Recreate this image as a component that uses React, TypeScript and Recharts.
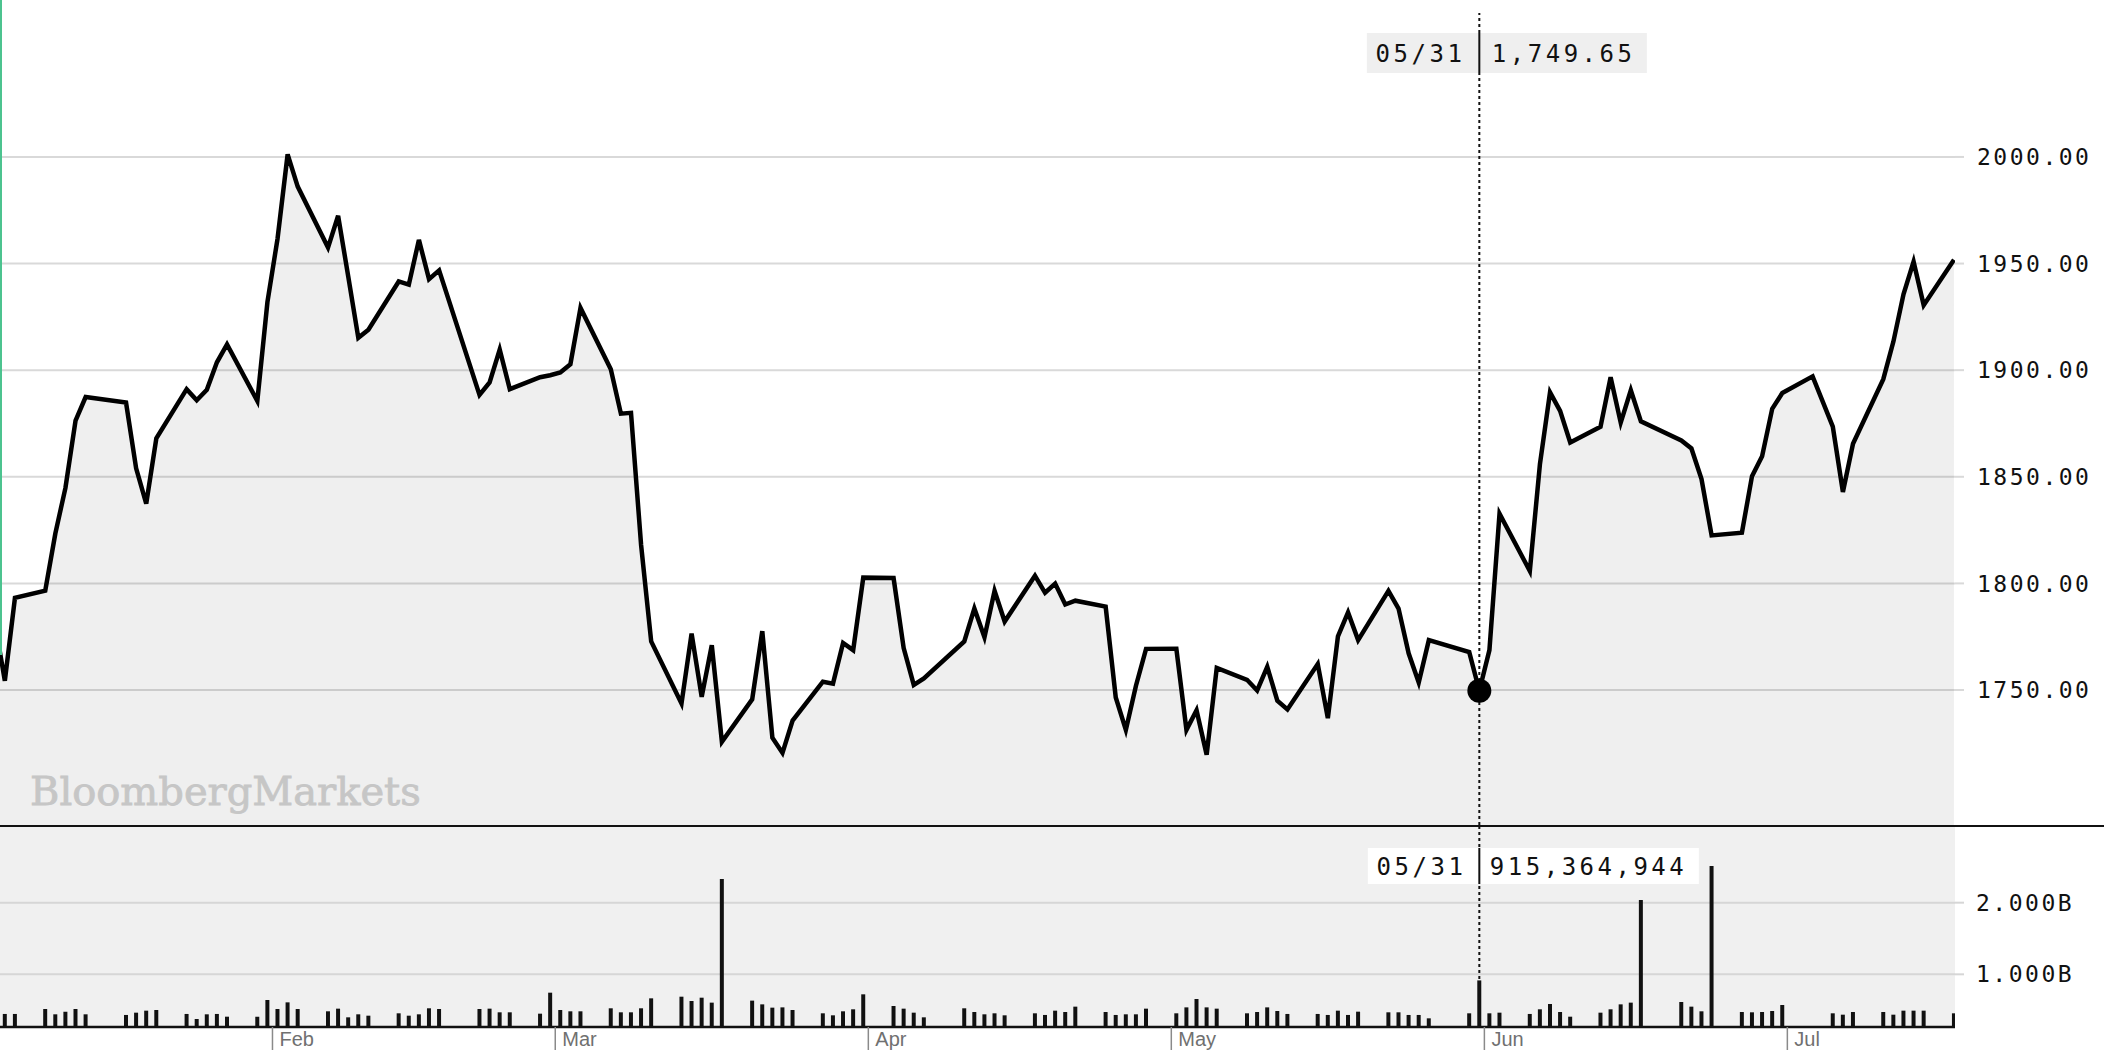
import React from "react";
import { ComposedChart, Area, Bar, XAxis, YAxis, CartesianGrid, ReferenceLine, ReferenceDot } from "recharts";

// 2023, day-of-year at the start of each month
const MONTH_START = [0, 31, 59, 90, 120, 151, 181, 212];
const MONTH_NAMES = ["Jan", "Feb", "Mar", "Apr", "May", "Jun", "Jul"];

const dates = [
  "01-04", "01-05", "01-06", "01-09", "01-10", "01-11", "01-12", "01-13", "01-17", "01-18", "01-19", "01-20", "01-23", "01-24", "01-25", "01-26", "01-27", "01-30", "01-31",
  "02-01", "02-02", "02-03", "02-06", "02-07", "02-08", "02-09", "02-10", "02-13", "02-14", "02-15", "02-16", "02-17", "02-21", "02-22", "02-23", "02-24", "02-27", "02-28",
  "03-01", "03-02", "03-03", "03-06", "03-07", "03-08", "03-09", "03-10", "03-13", "03-14", "03-15", "03-16", "03-17", "03-20", "03-21", "03-22", "03-23", "03-24", "03-27", "03-28", "03-29", "03-30", "03-31",
  "04-03", "04-04", "04-05", "04-06", "04-10", "04-11", "04-12", "04-13", "04-14", "04-17", "04-18", "04-19", "04-20", "04-21", "04-24", "04-25", "04-26", "04-27", "04-28",
  "05-01", "05-02", "05-03", "05-04", "05-05", "05-08", "05-09", "05-10", "05-11", "05-12", "05-15", "05-16", "05-17", "05-18", "05-19", "05-22", "05-23", "05-24", "05-25", "05-26", "05-30", "05-31",
  "06-01", "06-02", "06-05", "06-06", "06-07", "06-08", "06-09", "06-12", "06-13", "06-14", "06-15", "06-16", "06-20", "06-21", "06-22", "06-23", "06-26", "06-27", "06-28", "06-29", "06-30",
  "07-03", "07-05", "07-06", "07-07", "07-10", "07-11", "07-12", "07-13", "07-14", "07-17",
];

const closes = [
  1782, 1754.3, 1793.2, 1796.6, 1823.4, 1844.8, 1876.3, 1887.4, 1884.8, 1854.0, 1837.4, 1868.0, 1891.1, 1885.9, 1890.8, 1903.7, 1912.1, 1885.6, 1931.9,
  1961.6, 2001.2, 1986.1, 1957.5, 1972.4, 1944.0, 1915.2, 1919.0, 1941.6, 1940.1, 1961.1, 1942.7, 1946.8, 1888.4, 1894.3, 1909.7, 1891.1, 1896.7, 1897.6,
  1898.9, 1902.8, 1929.2, 1900.4, 1879.6, 1880.0, 1818.0, 1772.8, 1743.7, 1776.5, 1746.8, 1771.0, 1725.7, 1745.6, 1777.6, 1727.6, 1720.5, 1735.7, 1753.9, 1753.0, 1772.1, 1768.7, 1802.7,
  1802.5, 1769.7, 1752.4, 1755.4, 1772.8, 1788.2, 1774.7, 1796.5, 1782.1, 1803.6, 1795.6, 1799.9, 1790.1, 1791.9, 1789.1, 1746.5, 1731.3, 1752.0, 1769.3,
  1769.4, 1731.3, 1740.5, 1719.6, 1760.4, 1754.8, 1749.8, 1760.9, 1745.0, 1740.9, 1762.2, 1736.8, 1775.2, 1786.4, 1773.4, 1796.5, 1788.2, 1767.2, 1753.5, 1773.4, 1767.8, 1749.65,
  1768.7, 1832.7, 1805.8, 1855.9, 1889.6, 1880.9, 1866.1, 1873.5, 1896.7, 1875.4, 1890.6, 1876.0, 1867.0, 1863.3, 1848.9, 1822.5, 1823.8, 1850.3, 1859.6, 1881.9, 1889.3,
  1897.1, 1873.5, 1842.9, 1865.5, 1895.8, 1913.4, 1935.6, 1950.9, 1930.5, 1951.8,
];

// volume, millions of shares (07-03 half session not shown)
const volumes: (number | null)[] = [
  450, 447, 447, 516, 442, 479, 516, 442, 433, 465, 493, 502, 447, 377, 442, 447, 409, 409, 642,
  516, 609, 516, 484, 521, 400, 442, 423, 456, 423, 442, 526, 516, 516, 521, 470, 470, 451, 744,
  502, 484, 484, 526, 470, 470, 526, 665, 688, 628, 674, 605, 2330, 633, 581, 535, 539, 502, 456, 428, 484, 512, 721,
  558, 521, 465, 400, 526, 474, 442, 456, 428, 456, 433, 493, 474, 549, 474, 433, 442, 442, 521,
  456, 539, 656, 539, 521, 456, 474, 539, 488, 447, 447, 433, 493, 433, 479, 470, 470, 433, 433, 386, 456, 915.364944,
  456, 465, 447, 512, 586, 474, 409, 465, 512, 581, 605, 2037, 614, 549, 484, 2512, 474, 470, 474, 488, 572,
  null, 456, 437, 474, 474, 437, 493, 493, 493, 456,
];

const priceTicks = [1750, 1800, 1850, 1900, 1950, 2000];
const volumeTicks = [1e9, 2e9];
const crossDate = "05-31";

const dayOf = (md: string) => {
  const [m, d] = md.split("-").map(Number);
  return MONTH_START[m - 1] + d - 1 + 0.5;
};

const rows = dates.map((d, i) => ({
  t: dayOf(d),
  close: closes[i],
  vol: volumes[i] == null ? null : Math.round((volumes[i] as number) * 1e6),
}));

const cross = rows[dates.indexOf(crossDate)];
const crossLabel = crossDate.replace("-", "/");
const monthTicks = MONTH_START.slice(1, 7);
const X_DOMAIN = [4.02, 197.6];

const MONO = "'DejaVu Sans Mono', monospace";
const W = 2104;

function PriceTip({ viewBox }: any) {
  const x = viewBox.x;
  return (
    <g>
      <rect x={x - 112.5} y={33} width={280} height={40} fill="#efefef" />
      <text x={x - 14} y={62} textAnchor="end" fontFamily={MONO} fontSize={24} letterSpacing={3.5} fill="#111">{crossLabel}</text>
      <line x1={x} x2={x} y1={33} y2={73} stroke="#111" strokeWidth={2} />
      <text x={x + 12.5} y={62} fontFamily={MONO} fontSize={24} letterSpacing={3.5} fill="#111">
        {cross.close.toLocaleString("en-US", { minimumFractionDigits: 2 })}
      </text>
    </g>
  );
}

function VolumeTip({ viewBox }: any) {
  const x = viewBox.x;
  return (
    <g>
      <rect x={x - 111.5} y={22} width={331} height={36} fill="#fff" />
      <text x={x - 13} y={49} textAnchor="end" fontFamily={MONO} fontSize={24} letterSpacing={3.5} fill="#111">{crossLabel}</text>
      <line x1={x} x2={x} y1={22} y2={58} stroke="#111" strokeWidth={2} />
      <text x={x + 10.5} y={49} fontFamily={MONO} fontSize={24} letterSpacing={3.5} fill="#111">
        {(cross.vol ?? 0).toLocaleString("en-US")}
      </text>
    </g>
  );
}

function MonthTick({ x, y, payload }: any) {
  const i = MONTH_START.indexOf(payload.value);
  return (
    <text x={x + 7} y={y - 4} fill="#707070" fontSize={20} fontFamily="'Liberation Sans', Arial, sans-serif">
      {MONTH_NAMES[i]}
    </text>
  );
}

const axisTick = { fill: "#111", fontSize: 23, fontFamily: MONO, letterSpacing: 2.5 };

export default function App() {
  return (
    <div style={{ position: "fixed", left: 0, top: 0, width: W, height: 1064, background: "#fff", overflow: "hidden" }}>
      <div style={{ position: "absolute", left: 0, top: 0 }}>
        <ComposedChart width={W} height={826} data={rows} margin={{ top: 13, right: 0, bottom: 1, left: 0 }}>
          <CartesianGrid vertical={false} horizontalValues={priceTicks} stroke="#d9d9d9" strokeWidth={2} />
          <XAxis type="number" dataKey="t" domain={X_DOMAIN} allowDataOverflow hide />
          <YAxis
            orientation="right"
            width={149}
            domain={[1686.7, 2067.5]}
            allowDataOverflow
            ticks={priceTicks}
            tickFormatter={(v: number) => v.toFixed(2)}
            axisLine={false}
            tickLine={{ stroke: "#d9d9d9", strokeWidth: 2 }}
            tickSize={9}
            tickMargin={13}
            tick={axisTick}
          />
          <Area
            type="linear"
            dataKey="close"
            stroke="#000"
            strokeWidth={4.5}
            strokeLinejoin="miter"
            fill="#000"
            fillOpacity={0.063}
            dot={false}
            activeDot={false}
            isAnimationActive={false}
          />
          <ReferenceLine x={cross.t} stroke="#111" strokeWidth={2} strokeDasharray="3 3" label={<PriceTip />} />
          <ReferenceDot x={cross.t} y={cross.close} r={12} fill="#000" stroke="none" />
        </ComposedChart>
      </div>

      <div style={{ position: "absolute", left: 0, top: 0, width: 2, height: 655, background: "#4cc38f" }} />
      <div
        style={{
          position: "absolute",
          left: 30,
          top: 771,
          fontFamily: "'DejaVu Serif', serif",
          fontSize: 40,
          lineHeight: "40px",
          color: "#c6c6c6",
          WebkitTextStroke: "0.8px #c6c6c6",
          whiteSpace: "nowrap",
        }}
      >
        BloombergMarkets
      </div>

      <div style={{ position: "absolute", left: 0, top: 826 }}>
        <ComposedChart width={W} height={238} data={rows} margin={{ top: 1, right: 0, bottom: 0, left: 0 }}>
          <CartesianGrid vertical={false} horizontalValues={volumeTicks} fill="#f0f0f0" stroke="#d6d6d6" strokeWidth={2} />
          <XAxis
            type="number"
            dataKey="t"
            domain={X_DOMAIN}
            allowDataOverflow
            ticks={monthTicks}
            interval={0}
            height={37}
            axisLine={{ stroke: "#111", strokeWidth: 2.5 }}
            tickLine={{ stroke: "#8a8a8a", strokeWidth: 1.5 }}
            tickSize={23}
            tickMargin={0}
            tick={<MonthTick />}
          />
          <YAxis
            orientation="right"
            width={149}
            domain={[0.265e9, 3.056e9]}
            allowDataOverflow
            ticks={volumeTicks}
            tickFormatter={(v: number) => (v / 1e9).toFixed(3) + "B"}
            axisLine={false}
            tickLine={{ stroke: "#d6d6d6", strokeWidth: 2 }}
            tickSize={9}
            tickMargin={12}
            tick={axisTick}
          />
          <Bar dataKey="vol" fill="#111" barSize={4} isAnimationActive={false} />
          <ReferenceLine x={cross.t} stroke="#111" strokeWidth={2} strokeDasharray="3 3" label={<VolumeTip />} />
        </ComposedChart>
      </div>

      <div style={{ position: "absolute", left: 0, top: 825, width: W, height: 2, background: "#111" }} />
    </div>
  );
}
